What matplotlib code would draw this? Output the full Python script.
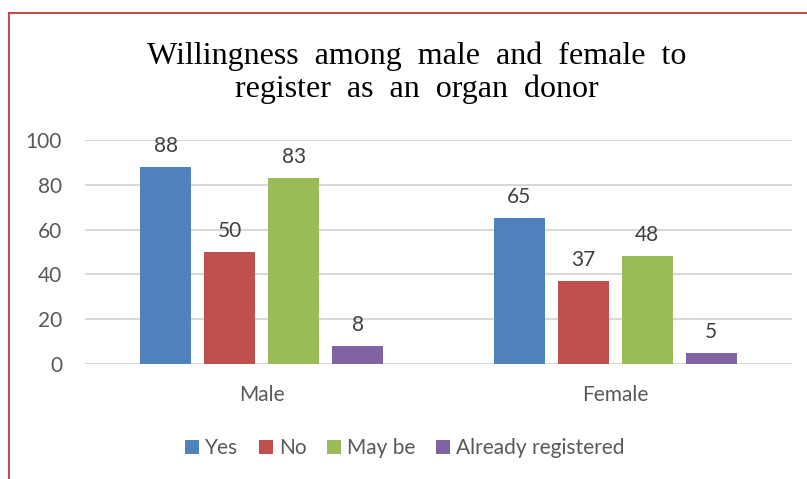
import matplotlib
matplotlib.use("Agg")
import matplotlib.pyplot as plt
import numpy as np
from matplotlib.lines import Line2D
from matplotlib.patches import Patch

categories = ["Male", "Female"]
series_names = ["Yes", "No", "May be", "Already registered"]
yes = [88, 65]
no = [50, 37]
maybe = [83, 48]
already = [8, 5]
yticks = [0, 20, 40, 60, 80, 100]

series = [yes, no, maybe, already]
colors = ["#4F81BD", "#C0504D", "#9BBB59", "#8064A2"]

W, H = 807, 479
fig = plt.figure(figsize=(W / 100, H / 100), dpi=100)
ax = fig.add_axes([85 / W, 1 - 364 / H, (792 - 85) / W, (364 - 140) / H])

x = np.arange(len(categories))
step = 0.181
width = 0.143
for i, (vals, c) in enumerate(zip(series, colors)):
    pos = x + (i - 1.5) * step
    ax.bar(pos, vals, width=width, color=c, zorder=3)
    for p, v in zip(pos, vals):
        ax.annotate(str(v), (p, v), xytext=(0, 8), textcoords="offset points",
                    ha="center", va="bottom", fontsize=15, color="#404040",
                    family="Lato")

ax.set_xlim(-0.5, 1.5)
ax.set_ylim(0, 100)
ax.set_yticks(yticks)
ax.set_yticklabels([str(t) for t in yticks], family="Lato", fontsize=15, color="#595959")
ax.set_xticks(x)
ax.set_xticklabels(categories, family="Lato", fontsize=15, color="#595959")
ax.tick_params(axis="both", length=0)
ax.tick_params(axis="y", pad=16.5)
ax.tick_params(axis="x", pad=15)
ax.grid(axis="y", color="#D9D9D9", linewidth=1.5, zorder=0)
for s in ax.spines.values():
    s.set_visible(False)

fig.text(417 / W, 1 - 73 / H, "Willingness  among  male  and  female  to\nregister  as  an  organ  donor",
         ha="center", va="center", family="Liberation Serif", fontsize=23,
         linespacing=1.15, color="black")

handles = [Patch(facecolor=c, edgecolor="none") for c in colors]
fig.legend(handles, series_names, loc="center", bbox_to_anchor=(405 / W, 1 - 448 / H),
           ncol=4, frameon=False, prop={"family": "Lato", "size": 15},
           handlelength=0.65, handleheight=0.65, handletextpad=0.3, columnspacing=1.0,
           labelcolor="#595959")

border = "#C0504D"
fig.add_artist(Line2D([8.5 / W, 8.5 / W], [0, 1 - 13 / H], transform=fig.transFigure,
                      color=border, linewidth=1.5))
fig.add_artist(Line2D([8.5 / W, 1], [1 - 13 / H, 1 - 13 / H], transform=fig.transFigure,
                      color=border, linewidth=1.5))

fig.savefig("out.png", dpi=100)
